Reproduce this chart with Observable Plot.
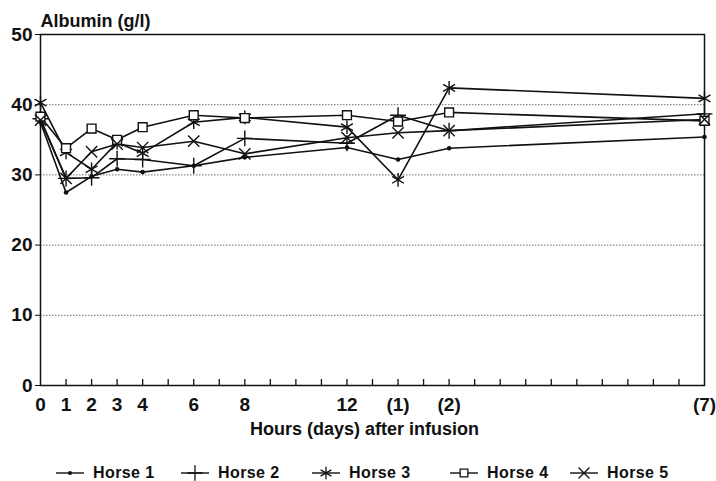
<!DOCTYPE html>
<html>
<head>
<meta charset="utf-8">
<script src="https://cdn.jsdelivr.net/npm/d3@7"></script>
<script src="https://cdn.jsdelivr.net/npm/@observablehq/plot@0.6"></script>
<style>
  html, body { margin: 0; padding: 0; background: #fff; }
  #wrap { position: relative; width: 716px; height: 481px; font-family: "Liberation Sans", Arial, sans-serif; }
  #legend { position: absolute; left: 0; top: 464px; width: 716px; height: 20px; }
  .item { position: absolute; top: 0; display: flex; align-items: center; font-weight: bold; font-size: 16px; letter-spacing: 0.4px; color: #111; }
  .item svg { margin-right: 8px; }
</style>
</head>
<body>
<div id="wrap"><div id="chart"></div><div id="legend"></div></div>
<script>
// x positions (hours; days placed after 12 h) and their tick labels
const xPos = [0, 1, 2, 3, 4, 6, 8, 12, 14, 16, 26];
const xLabels = ["0", "1", "2", "3", "4", "6", "8", "12", "(1)", "(2)", "(7)"];
const yTicks = [0, 10, 20, 30, 40, 50];
const gridValues = [10, 20, 30, 40];
const minorTicks = d3.range(1, 26);

const seriesNames = ["Horse 1", "Horse 2", "Horse 3", "Horse 4", "Horse 5"];
const horse1 = [37.5, 27.5, 29.8, 30.8, 30.4, 31.3, 32.5, 33.9, 32.2, 33.8, 35.4];
const horse2 = [38.0, 29.5, 29.6, 32.3, 32.2, 31.3, 35.2, 34.5, 38.5, 36.3, 38.7];
const horse3 = [40.3, 33.2, 30.8, 34.6, 33.1, 37.5, 38.2, 36.8, 29.3, 42.4, 40.9];
const horse4 = [38.3, 33.8, 36.6, 35.0, 36.8, 38.5, 38.1, 38.5, 37.6, 38.9, 37.7];
const horse5 = [37.8, 29.5, 33.3, 34.4, 33.9, 34.8, 33.0, 35.3, 36.0, 36.3, 37.9];
const symbols = ["circle", "plus", "asterisk", "square", "times"];
const markerR = [2.3, 5.2, 6.5, 5, 5.2];

const allValues = [horse1, horse2, horse3, horse4, horse5];
const data = allValues.flatMap((vals, i) =>
  vals.map((v, j) => ({ horse: seriesNames[i], x: xPos[j], y: v }))
);

const H = 448;
const dotMarks = seriesNames.map((name, i) =>
  Plot.dot(data.filter(d => d.horse === name), {
    x: "x", y: "y", symbol: "horse", r: markerR[i],
    fill: i === 0 ? "#111" : "white",
    stroke: i === 0 ? "none" : "#111",
    strokeWidth: 1.4
  })
);

const chart = Plot.plot({
  width: 716,
  height: H,
  marginLeft: 40,
  marginRight: 12,
  marginTop: 34,
  marginBottom: H - 385,
  style: { fontFamily: "'Liberation Sans', Arial, sans-serif", fontSize: "19px", fontWeight: "bold", color: "#111", background: "#fff" },
  x: { domain: [0, 26] },
  y: { domain: [0, 50] },
  symbol: { domain: seriesNames, range: symbols },
  marks: [
    Plot.ruleY(gridValues, { stroke: "#8a8a8a", strokeDasharray: "1.5,1.5", strokeWidth: 1.2 }),
    Plot.ruleX(minorTicks, { y1: 0, y2: 0.85, stroke: "#111", strokeWidth: 1.3 }),
    Plot.frame({ stroke: "#111", strokeWidth: 1.5 }),
    Plot.axisY({ ticks: yTicks, tickSize: 5, tickPadding: 3, label: null }),
    Plot.axisX({ ticks: xPos, tickFormat: d => xLabels[xPos.indexOf(d)], tickSize: 0, tickPadding: 12, label: null }),
    Plot.line(data, { x: "x", y: "y", z: "horse", stroke: "#111", strokeWidth: 1.6 }),
    ...dotMarks,
    Plot.text(["Albumin (g/l)"], { frameAnchor: "top-left", lineAnchor: "middle", dy: -13, dx: 0, textAnchor: "start", fontSize: 18, letterSpacing: 0.6 }),
    Plot.text(["Hours (days) after infusion"], { frameAnchor: "bottom", lineAnchor: "middle", dy: 44, dx: -8, fontSize: 18, letterSpacing: 0.3 })
  ]
});
document.getElementById("chart").appendChild(chart);

// legend
const legendLeft = [55, 180, 311, 449, 569];
const legend = d3.select("#legend");
const symbolTypes = [d3.symbolCircle, d3.symbolPlus, d3.symbolAsterisk, d3.symbolSquare, d3.symbolTimes];
const legendSizes = [14, 80, 110, 60, 80];
seriesNames.forEach((name, i) => {
  const item = legend.append("div").attr("class", "item").style("left", legendLeft[i] + "px");
  const svg = item.append("svg").attr("width", 30).attr("height", 16);
  svg.append("line").attr("x1", 1).attr("x2", 29).attr("y1", 8).attr("y2", 8).attr("stroke", "#111").attr("stroke-width", 1.4);
  svg.append("path")
    .attr("transform", "translate(15,8)")
    .attr("d", d3.symbol(symbolTypes[i], legendSizes[i])())
    .attr("fill", i === 0 ? "#111" : "white")
    .attr("stroke", i === 0 ? "none" : "#111")
    .attr("stroke-width", 1.3);
  item.append("span").text(name);
});
</script>
</body>
</html>
